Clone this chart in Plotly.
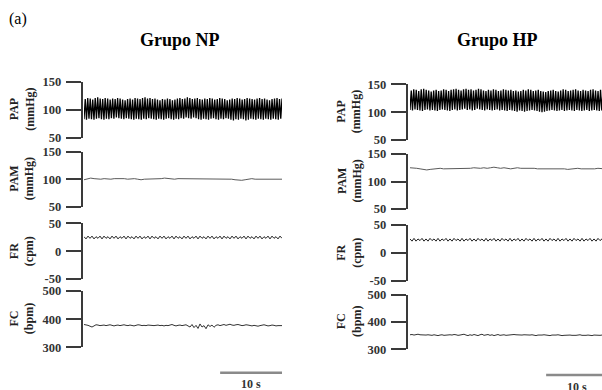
import plotly.graph_objects as go

# ---------------- data ----------------
duration_s = 32  # length of each recording window (s)
scale_bar_s = 10

# PAP: systolic peaks / diastolic troughs per beat (mmHg)
pap_np_sys = [119,121,120,118,121,122,120,119,121,120,
              118,120,119,121,120,118,117,119,120,118,
              121,120,119,121,122,120,121,119,120,118,
              117,119,118,120,119,117,118,120,121,119,
              120,122,121,119,120,121,119,118,120,119,
              121,120,118,119,121,120,119,117,118,120,
              119,121,120,118,119,121,120,119,118,120,
              121,119,120,118,117,119,120,121,119,120]
pap_np_dia = [83,82,84,83,82,84,85,83,82,84,
              83,85,84,86,85,84,83,85,84,83,
              82,84,83,82,84,83,85,84,83,82,
              84,83,82,84,85,83,82,84,83,85,
              84,86,85,84,86,85,83,82,84,83,
              82,84,85,83,82,84,83,85,84,82,
              81,83,82,84,83,81,82,84,83,82,
              84,83,82,84,83,82,84,83,82,84]
pap_hp_sys = [139,141,140,138,141,142,140,139,137,139,
              140,138,139,141,140,138,140,141,142,140,
              139,141,142,140,141,139,140,142,141,139,
              138,140,139,141,140,138,139,141,140,139,
              140,138,139,137,138,140,139,141,140,138,
              139,140,138,137,136,138,139,140,138,137,
              139,141,140,138,139,140,141,139,138,140,
              139,138,140,141,139,138,140,139,141,140]
pap_hp_dia = [104,103,105,104,103,102,104,105,103,104,
              103,102,104,105,104,103,102,104,105,103,
              104,105,106,104,105,103,104,106,105,104,
              103,105,104,103,104,105,103,104,103,102,
              104,103,102,101,103,102,101,102,103,104,
              103,102,101,100,101,102,103,104,103,102,
              103,104,102,103,104,103,102,104,103,102,
              103,104,102,103,104,103,102,103,104,103]

# PAM (mmHg)
pam_np = [99,101,102,101,100,100,101,100,100,101,
          101,102,101,100,101,101,100,99,100,100,
          100,101,100,101,102,101,101,100,101,101,
          101,100,101,100,100,100,101,100,100,100,
          101,101,100,100,100,99,98,98,99,100,
          101,100,100,100,101,100,100,100,100,100]
pam_hp = [125,125,124,123,122,121,122,123,123,124,
          123,123,124,123,123,124,124,123,124,125,
          124,124,125,124,125,126,125,124,125,124,
          123,124,125,124,124,125,124,124,123,123,
          124,124,123,123,124,123,123,122,123,123,
          124,123,123,122,123,123,124,123,123,123]

# FR (cpm)
fr_np = [26,22,27,23,27,22,26,23,27,22,
         27,23,26,22,27,23,27,22,26,23,
         27,22,27,23,26,22,27,23,27,22,
         26,23,27,22,27,23,26,22,27,23,
         27,22,26,23,27,22,27,23,26,22,
         27,23,27,22,26,23,27,22,27,23,
         26,22,27,23,27,22,26,23,27,22,
         27,23,26,22,27,23,27,22,26,23,
         27,22,27,23,26,22,27,23,27,22,
         26,23,27,22,27,23,26,22,27,23]
fr_hp = [25,21,26,21,25,22,26,21,25,21,
         26,22,25,21,26,21,25,22,26,21,
         25,21,26,22,25,21,26,21,25,22,
         26,21,25,21,26,22,25,21,26,21,
         25,22,26,21,25,21,26,22,25,21,
         26,21,25,22,26,21,25,21,26,22,
         25,21,26,21,25,22,26,21,25,21,
         26,22,25,21,26,21,25,22,26,21,
         25,21,26,22,25,21,26,21,25,22,
         26,21,25,21,26,22,25,21,26,21]

# FC (bpm)
fc_np = [381,380,378,375,372,376,380,379,377,378,
         379,377,378,380,378,376,378,379,377,378,
         380,378,377,379,378,376,378,380,379,377,
         378,377,379,378,376,377,378,379,377,378,
         376,378,377,379,381,378,376,378,379,377,
         378,380,376,372,381,370,378,367,383,372,
         377,366,380,374,379,371,378,380,377,379,
         381,378,380,382,379,378,380,381,379,377,
         378,380,379,377,376,378,377,375,377,378,
         380,378,376,377,379,378,376,377,378,377]
fc_hp = [353,354,352,353,355,353,352,351,352,353,
         352,351,353,352,350,352,353,351,352,354,
         353,352,354,353,351,352,353,355,352,350,
         353,351,354,352,350,353,355,351,352,354,
         351,353,350,352,354,351,352,353,351,352,
         353,352,354,353,352,351,352,353,352,351,
         352,353,351,350,352,351,352,353,352,351,
         350,352,351,352,353,351,350,351,352,351,
         352,351,350,351,352,353,351,350,351,352,
         351,350,352,351,350,351,352,351,350,351]

group_titles = ["Grupo NP", "Grupo HP"]
panel_labels = ["PAP<br>(mmHg)", "PAM<br>(mmHg)", "FR<br>(cpm)", "FC<br>(bpm)"]
panel_ranges = [(50, 150), (50, 150), (-50, 50), (300, 500)]
panel_ticks = [[50, 100, 150], [50, 100, 150], [-50, 0, 50], [300, 400, 500]]

# ---------------- layout helpers ----------------
W, H = 602, 390
def px(x): return x / W
def py(y): return 1 - y / H

SERIF = "Liberation Serif, Times New Roman, serif"
AX = "#3a3a3a"
TXT = "#333333"

def interleave(a, b):
    out = []
    for s, d in zip(a, b):
        out += [d, s]
    return out

def times(n):
    return [i * duration_s / (n - 1) for i in range(n)]

groups = [
    dict(series=[interleave(pap_np_sys, pap_np_dia), pam_np, fr_np, fc_np],
         axis_x=81.7, x0=84, x1=282,
         rows=[(81.7, 137.7), (151.7, 206.7), (223.3, 279.0), (291.0, 347.3)],
         label_x=22, title_x=180, bar_y=372.7, bar_txt_y=384),
    dict(series=[interleave(pap_hp_sys, pap_hp_dia), pam_hp, fr_hp, fc_hp],
         axis_x=406.7, x0=410, x1=602,
         rows=[(84.3, 140.0), (154.0, 209.0), (225.0, 280.7), (294.5, 349.3)],
         label_x=349, title_x=497, bar_y=375, bar_txt_y=387),
]
styles = [dict(color="#000000", width=1.3), dict(color="#5a5a5a", width=1),
          dict(color="#222222", width=1), dict(color="#333333", width=1)]

px_per_s = (282 - 84) / duration_s

fig = go.Figure()
layout = dict(width=W, height=H,
              margin=dict(l=0, r=0, t=0, b=0, pad=0, autoexpand=False),
              paper_bgcolor="white", plot_bgcolor="white", showlegend=False)
annotations = []
shapes = []

k = 0
for g, grp in enumerate(groups):
    xr_end = (grp["x1"] - grp["x0"]) / px_per_s
    for r in range(4):
        k += 1
        sfx = "" if k == 1 else str(k)
        vals = grp["series"][r]
        fig.add_trace(go.Scatter(x=times(len(vals)), y=vals, mode="lines",
                                 line=styles[r], xaxis="x" + sfx, yaxis="y" + sfx,
                                 hoverinfo="skip"))
        top, bot = grp["rows"][r]
        layout["xaxis" + sfx] = dict(domain=[px(grp["x0"]), px(grp["x1"])],
                                     range=[0, xr_end], visible=False,
                                     automargin=False, anchor="y" + sfx)
        layout["yaxis" + sfx] = dict(domain=[py(bot), py(top)],
                                     range=list(panel_ranges[r]),
                                     anchor="free", position=px(grp["axis_x"]),
                                     automargin=False,
                                     showline=True, linecolor=AX, linewidth=2,
                                     ticks="outside", ticklen=15, tickwidth=2,
                                     tickcolor=AX, tickvals=panel_ticks[r],
                                     ticktext=[str(v) for v in panel_ticks[r]],
                                     ticklabelstandoff=2,
                                     tickfont=dict(family=SERIF, size=12.5, color=TXT,
                                                   weight="bold"),
                                     showgrid=False, zeroline=False)
        annotations.append(dict(text="<b>" + panel_labels[r].replace("<br>", "</b><br><b>") + "</b>",
                                x=px(grp["label_x"]), y=py((top + bot) / 2),
                                xref="paper", yref="paper", showarrow=False,
                                textangle=-90, xanchor="center", yanchor="middle",
                                font=dict(family=SERIF, size=12, color="#222222")))
    # scale bar on the FC axis
    xa = "x" + str(k)
    shapes.append(dict(type="line", xref=xa, yref="paper",
                       x0=duration_s - scale_bar_s, x1=duration_s,
                       y0=py(grp["bar_y"]), y1=py(grp["bar_y"]),
                       line=dict(color="#8a8a8a", width=2.5)))
    annotations.append(dict(text="<b>%d s</b>" % scale_bar_s, xref=xa, yref="paper",
                            x=duration_s - scale_bar_s / 2, y=py(grp["bar_txt_y"]),
                            showarrow=False, xanchor="center", yanchor="middle",
                            font=dict(family=SERIF, size=12, color=TXT)))
    annotations.append(dict(text="<b>" + group_titles[g] + "</b>", xref="paper", yref="paper",
                            x=px(grp["title_x"]), y=py(40), showarrow=False,
                            xanchor="center", yanchor="middle",
                            font=dict(family=SERIF, size=18, color="#000000")))

annotations.append(dict(text="(a)", xref="paper", yref="paper", x=px(7), y=py(19),
                        showarrow=False, xanchor="left", yanchor="middle",
                        font=dict(family=SERIF, size=16, color="#000000")))

layout["annotations"] = annotations
layout["shapes"] = shapes
fig.update_layout(**layout)
fig.write_html("out.html", config={"displayModeBar": False},
               post_script="document.body.style.margin='0';document.body.style.overflow='hidden';")
